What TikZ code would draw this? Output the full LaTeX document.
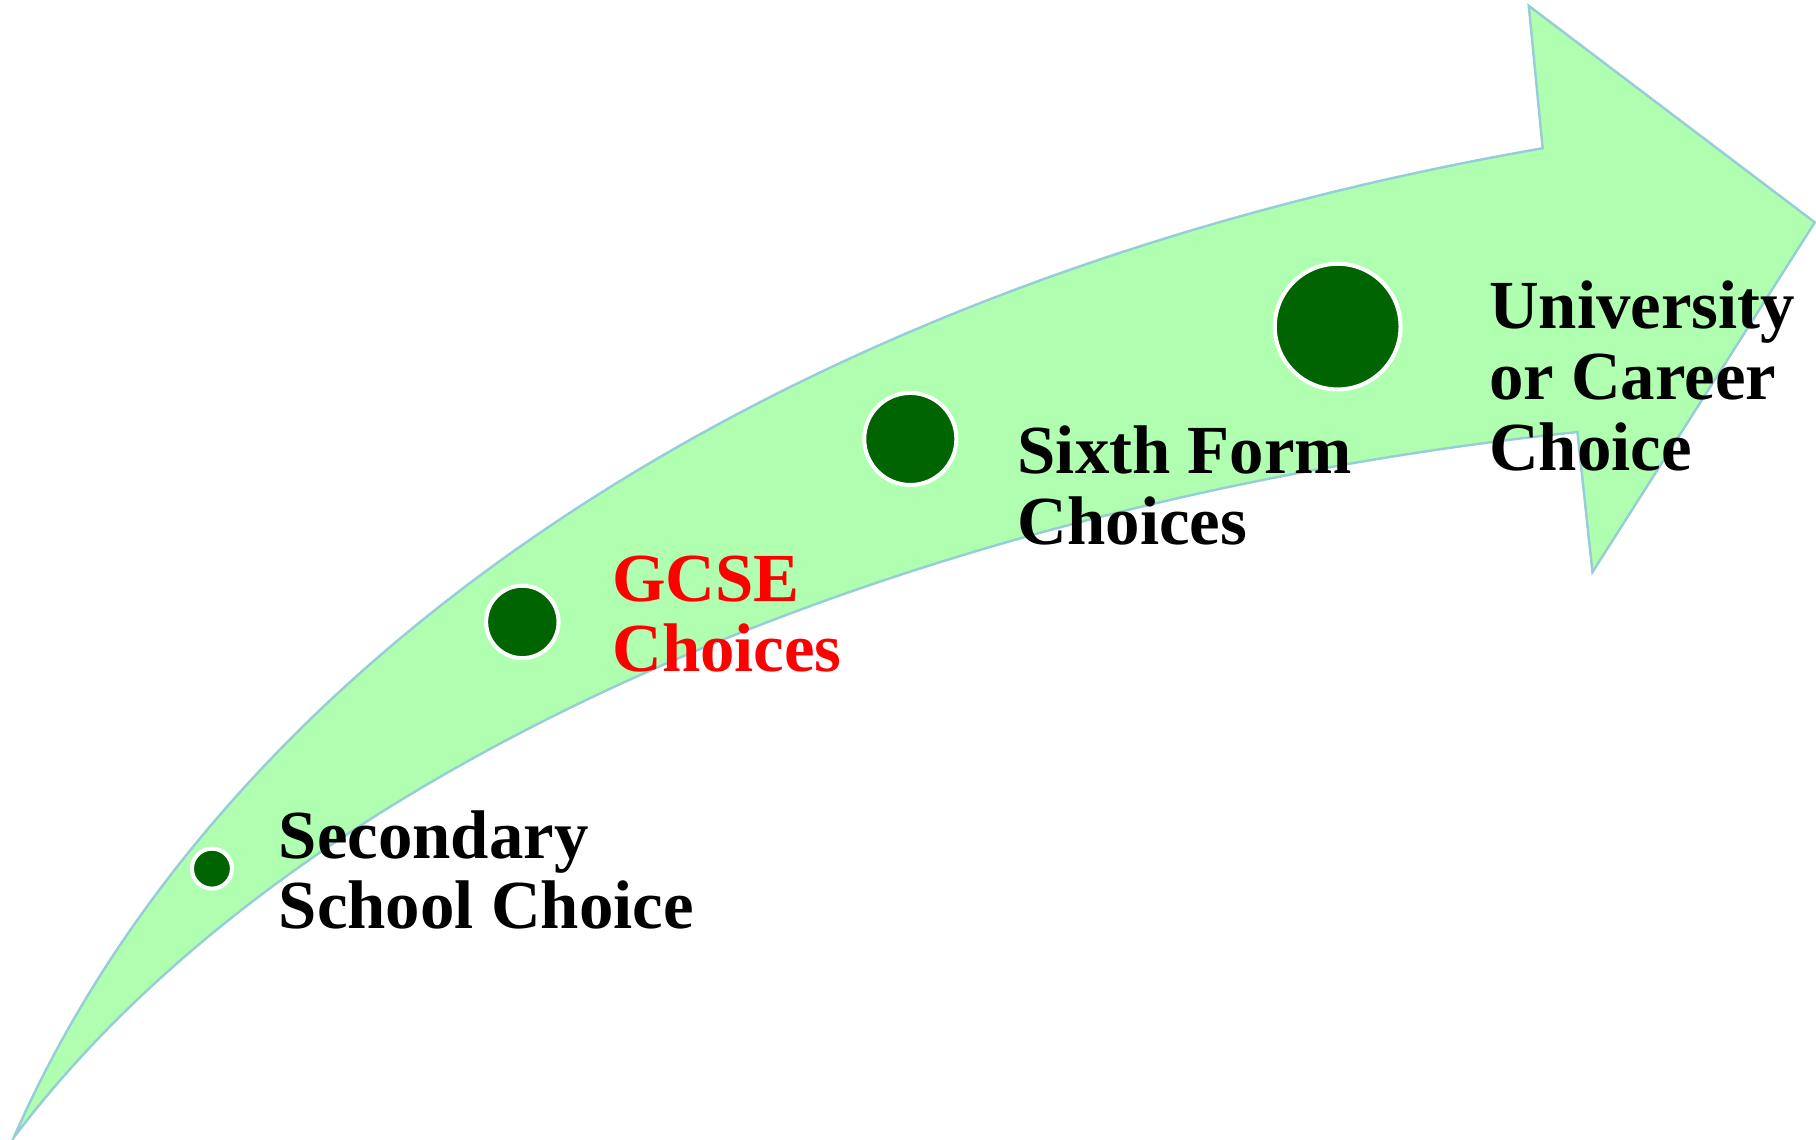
\documentclass[tikz,border=0pt]{standalone}
\usepackage{fontspec}
\setmainfont{Liberation Serif}
\definecolor{bandfill}{RGB}{176,255,176}
\definecolor{bandline}{RGB}{150,205,215}
\definecolor{dotgreen}{RGB}{0,100,0}
\definecolor{hotred}{RGB}{255,0,0}
\tikzset{
  band/.style={fill=bandfill, draw=bandline, line width=0.6pt, line join=miter},
  dot/.style={circle, fill=dotgreen, draw=white, line width=0.035cm, inner sep=0pt},
  label/.style={anchor=base west, inner sep=0pt, align=left,
    font=\fontsize{16.9}{17.35}\selectfont\bfseries}
}
\begin{document}
\begin{tikzpicture}[x=0.01cm, y=-0.01cm]
\useasboundingbox (0,0) rectangle (1568,984);
% curved arrow
\coordinate (tail) at (12,982);
\coordinate (notchU) at (1332,128);
\coordinate (barbU) at (1320,5);
\coordinate (tip) at (1567,192);
\coordinate (barbL) at (1375,494);
\coordinate (notchL) at (1362,373);
\path[band] (tail) .. controls (190,575) and (660,245) .. (notchU)
  -- (barbU) -- (tip) -- (barbL) -- (notchL)
  .. controls (820,430) and (270,640) .. (tail) -- cycle;
% dots
\node[dot, minimum size=0.345cm] (d1) at (183,750) {};
\node[dot, minimum size=0.625cm] (d2) at (451,537) {};
\node[dot, minimum size=0.795cm] (d3) at (786,379) {};
\node[dot, minimum size=1.085cm] (d4) at (1155,282) {};
% labels (base = baseline of last line)
\node[label] (t1) at (240,802) {Secondary\\School Choice};
\node[label, text=hotred] (t2) at (528,580) {GCSE\\Choices};
\node[label] (t3) at (878,470) {Sixth Form\\Choices};
\node[label] (t4) at (1285,406) {University\\or Career\\Choice};
\end{tikzpicture}
\end{document}
